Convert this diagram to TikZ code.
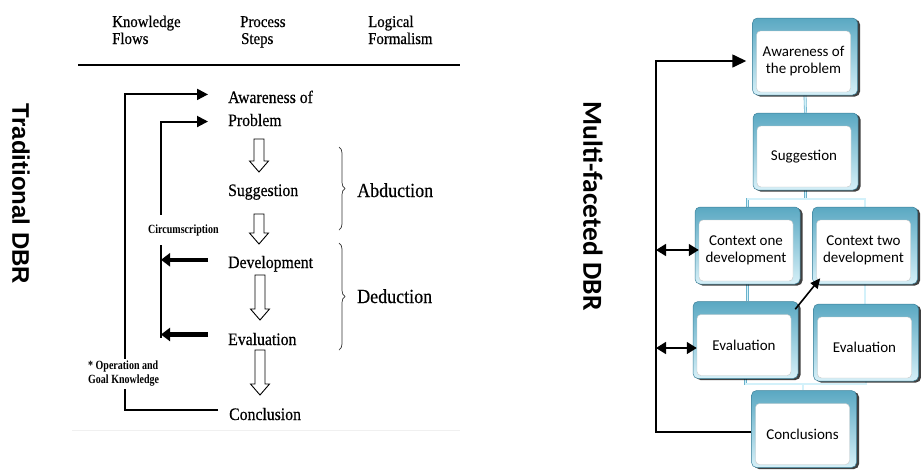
\documentclass[tikz,border=0pt]{standalone}
\usepackage{fontspec}
\setmainfont[FakeStretch=0.9,FakeBold=0.5]{Liberation Serif}
\newfontfamily\condserif[FakeStretch=0.8]{Liberation Serif}
\newfontfamily\arialfont{Liberation Sans}
\newfontfamily\calibrifont{Carlito}
\usetikzlibrary{arrows.meta,calc,shadows,backgrounds,decorations.pathreplacing}

\definecolor{frametop}{HTML}{5AA8C2}
\definecolor{framebot}{HTML}{D6F0F8}
\definecolor{frameedge}{HTML}{3C8099}
\definecolor{linkedge}{HTML}{6AB3CC}
\definecolor{linkfill}{HTML}{D3F1FA}

% hollow block arrow between two process steps
\newcommand\hollowarrow[3]{%
  \draw[line width=0.9pt,fill=white]
    (#1-5,#2) -- (#1+5,#2) -- (#1+5,#3-11) -- (#1+9.5,#3-11) -- (#1,#3)
    -- (#1-9.5,#3-11) -- (#1-5,#3-11) -- cycle;}

% 3D box: frame node #1 with an inset white panel carrying the text
\newcommand\dbrbox[4]{%
  \node[frame] (#1) at (#2,#3) {};
  \node[panel] (#1-p) at ($(#1.center)+(-1.5,5)$) {#4};}

\begin{document}
\begin{tikzpicture}[x=1pt,y=-1pt,
  hdr/.style={anchor=base west,inner sep=0,font=\fontsize{16.5}{16.5}\selectfont},
  procstep/.style={anchor=base west,inner sep=0,font=\fontsize{17.5}{17.5}\selectfont},
  logic/.style={anchor=base west,inner sep=0,font=\fontsize{20}{20}\selectfont},
  note/.style={fill=white,font=\condserif\bfseries\fontsize{12.5}{14}\selectfont},
  loopline/.style={line width=2pt},
  backarrow/.style={line width=4.5pt,-{Triangle[length=9pt,width=13pt]}},
  tip/.style={-{Triangle[length=11pt,width=11pt]}},
  brace/.style={decorate,decoration={brace,amplitude=6pt},line width=0.7pt,black!80},
  frame/.style={rounded corners=5pt,top color=frametop,bottom color=framebot,
    draw=frameedge,line width=0.5pt,minimum width=105pt,minimum height=77pt,inner sep=0,
    drop shadow={shadow xshift=2.5pt,shadow yshift=-1.5pt,fill=black,opacity=0.75}},
  panel/.style={rounded corners=4pt,fill=white,draw=gray!45,line width=0.4pt,
    minimum width=94pt,minimum height=61pt,inner sep=0,align=center,
    font=\calibrifont\fontsize{15}{17}\selectfont},
  conn/.style={draw=linkedge,double=linkfill,double distance=1.6pt,line width=0.6pt},
  rline/.style={line width=1.6pt},
  sidetitle/.style={rotate=-90,inner sep=0}
]
\useasboundingbox (0,0) rectangle (921,472);

% ---------------- traditional DBR ----------------
\node[sidetitle,font=\arialfont\bfseries\fontsize{24}{24}\selectfont] (tdbr) at (21,194) {Traditional DBR};

\node[hdr] (h1a) at (112,27) {Knowledge};
\node[hdr] (h1b) at (112,44) {Flows};
\node[hdr] (h2a) at (240,27) {Process};
\node[hdr] (h2b) at (241,44) {Steps};
\node[hdr] (h3a) at (368,27) {Logical};
\node[hdr] (h3b) at (368,44) {Formalism};
\draw[line width=1.2pt] (78,65) -- (460,65);
\draw[line width=0.6pt,gray!12] (72,430) -- (460,430);

\node[procstep] (aw1) at (228,103) {Awareness of};
\node[procstep] (pr1) at (228,126) {Problem};
\node[procstep] (sg1) at (228,196) {Suggestion};
\node[procstep] (dv1) at (228,268) {Development};
\node[procstep] (ev1) at (228,345) {Evaluation};
\node[procstep] (cn1) at (229,420) {Conclusion};

\node[logic] (abd) at (357,197) {Abduction};
\node[logic] (ded) at (357,303) {Deduction};
\draw[brace] (339,147) -- (339,230);
\draw[brace] (339,243) -- (339,350);

\hollowarrow{259}{139}{172}
\hollowarrow{259}{214}{244}
\hollowarrow{260}{275}{320}
\hollowarrow{260}{350}{395}

% knowledge flows
\coordinate (ol) at (125,0);
\coordinate (il) at (161,0);
\coordinate (awIn) at ([xshift=-20pt,yshift=2.5pt]aw1.west);
\coordinate (prIn) at ([xshift=-20pt,yshift=-1.5pt]pr1.west);
\coordinate (cnOut) at ([xshift=-11pt,yshift=4pt]cn1.west);
\coordinate (dvOut) at ([xshift=-20pt,yshift=4pt]dv1.west);
\coordinate (evOut) at ([xshift=-20pt,yshift=4.5pt]ev1.west);

\draw[loopline,tip] (cnOut) -- (cnOut -| ol) -- (awIn -| ol) -- (awIn);
\draw[loopline,tip] ([yshift=-3pt]evOut -| il) -- (prIn -| il) -- (prIn);
\draw[backarrow] (dvOut) -- (dvOut -| il);
\draw[backarrow] (evOut) -- (evOut -| il);

\node[note,anchor=base west,inner xsep=0,inner ysep=9pt] (circ) at (148,233) {Circumscription};
\node[note,anchor=north west,align=left,inner sep=2pt] (opk) at (86,359)
  {* Operation and\\Goal Knowledge};

% ---------------- multi-faceted DBR ----------------
\node[sidetitle,font=\calibrifont\bfseries\fontsize{27.5}{27.5}\selectfont] (mdbr) at (593,206) {Multi-faceted DBR};

\dbrbox{aw}{805}{56.5}{Awareness of\\the problem}
\dbrbox{su}{805.5}{151.5}{Suggestion}
\dbrbox{c1}{747.5}{245.5}{Context one\\development}
\dbrbox{c2}{865}{245.5}{Context two\\development}
\dbrbox{e1}{745.5}{340}{Evaluation}
\dbrbox{e2}{866}{342.5}{Evaluation}
\dbrbox{con}{804}{429}{Conclusions}

\begin{scope}[on background layer]
  \coordinate (b1) at (805.5,199);
  \coordinate (b2) at (803,384);
  \draw[conn] (aw.south) -- (su.north);
  \draw[conn] (su.south) -- (b1);
  \draw[conn] (c1.north) |- (b1) -| (c2.north);
  \draw[conn] (c1.south) -- (e1.north -| c1.south);
  \draw[conn] (c2.south) -- (e2.north -| c2.south);
  \draw[conn] (e1.south) |- (b2) -| (e2.south);
  \draw[conn] (b2) -- (con.north -| b2);
\end{scope}

\coordinate (lx) at (656,0);
\coordinate (awT) at ([xshift=-6pt,yshift=-4.5pt]aw.west);
\coordinate (conT) at ([yshift=-3pt]con.west);
\coordinate (c1T) at ([xshift=4pt,yshift=-4.5pt]c1.west);
\coordinate (e1T) at ([xshift=4pt,yshift=-8pt]e1.west);

\draw[rline,-{Triangle[length=14pt,width=13pt]}] (conT) -- (conT -| lx) -- (awT -| lx) -- (awT);
\draw[rline,{Triangle[length=10pt,width=12pt]}-{Triangle[length=10pt,width=12pt]}] (c1T -| lx) -- (c1T);
\draw[rline,{Triangle[length=10pt,width=12pt]}-{Triangle[length=10pt,width=12pt]}] (e1T -| lx) -- (e1T);
\draw[rline,-{Triangle[length=10pt,width=9pt]}] ([xshift=-3pt,yshift=-8pt]e1.north east) -- ([xshift=8pt,yshift=6pt]c2.south west);
\end{tikzpicture}
\end{document}
